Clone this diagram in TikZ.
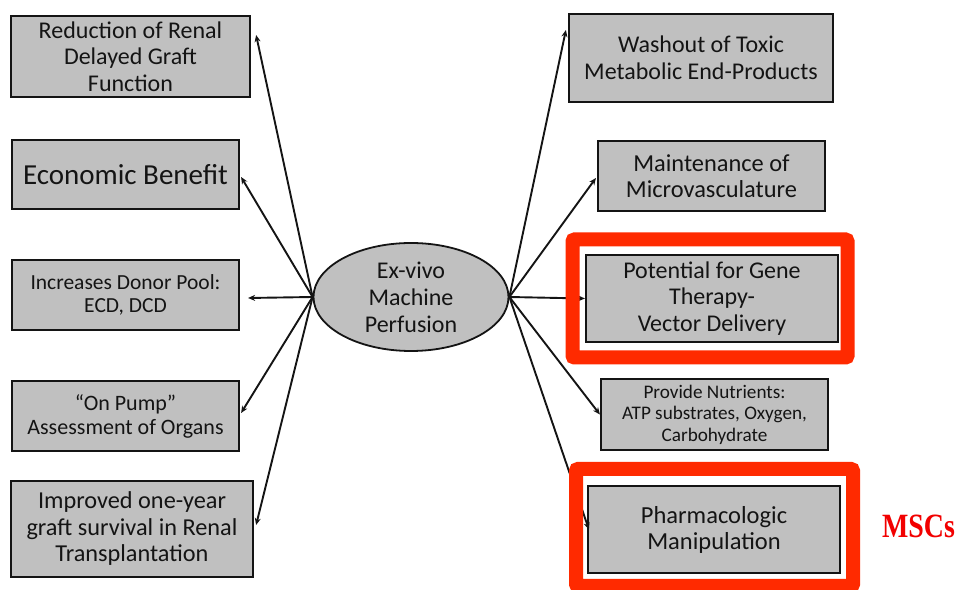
\documentclass[tikz,border=0pt]{standalone}
\usepackage{fontspec}
\setsansfont{Carlito}
\newfontfamily\PerfSerif[FakeStretch=0.82]{Liberation Serif}
\usetikzlibrary{arrows.meta,shapes.geometric}
\definecolor{PerfInk}{HTML}{141414}
\definecolor{PerfFill}{HTML}{C0C0C0}
\definecolor{PerfRed}{HTML}{FF2A00}
\definecolor{PerfNote}{HTML}{F20000}
\tikzset{
  perf box/.style={draw=PerfInk, fill=PerfFill, line width=2.2pt, align=center, inner sep=0pt, text=PerfInk, font=\sffamily\fontsize{24}{26.5}\selectfont},
  perf hub/.style={ellipse, draw=PerfInk, fill=PerfFill, line width=1.8pt, inner sep=0pt, minimum width=195pt, minimum height=108pt, align=center, text=PerfInk, font=\sffamily\fontsize{24}{27}\selectfont},
  perf arrow/.style={draw=PerfInk, line width=1.9pt, -{Stealth[length=7pt,width=6pt]}},
  perf frame/.style={draw=PerfRed, line width=14pt, rounded corners=2pt},
  perf note/.style={font=\PerfSerif\bfseries\fontsize{34}{38}\selectfont, text=PerfNote},
}

\begin{document}
\begin{tikzpicture}[x=1pt,y=1pt]
  \useasboundingbox (0,0) rectangle (958,589);

  \node[perf hub] (hub) at (411,292) {Ex-vivo\\Machine\\Perfusion};

  \node[perf box, minimum width=239pt, minimum height=81pt] (delay) at (130.5,532.5)
    {Reduction of Renal\\Delayed Graft\\Function};
  \node[perf box, minimum width=227pt, minimum height=69pt, font=\sffamily\fontsize{29}{32}\selectfont] (econ) at (125.5,414.5)
    {Economic Benefit};
  \node[perf box, minimum width=227pt, minimum height=70pt, font=\sffamily\fontsize{21.5}{23.5}\selectfont] (donor) at (125.5,294)
    {Increases Donor Pool:\\ECD, DCD};
  \node[perf box, minimum width=227pt, minimum height=70pt, font=\sffamily\fontsize{22}{24}\selectfont] (pump) at (125.5,173)
    {“On Pump”\\Assessment of Organs};
  \node[perf box, minimum width=242pt, minimum height=96pt, font=\sffamily\fontsize{24.3}{26.5}\selectfont] (graft) at (132,60)
    {Improved one-year\\graft survival in Renal\\Transplantation};

  \node[perf box, minimum width=264pt, minimum height=88pt] (wash) at (701,531)
    {Washout of Toxic\\Metabolic End-Products};
  \node[perf box, minimum width=227pt, minimum height=70pt, font=\sffamily\fontsize{24.4}{26}\selectfont] (micro) at (711.5,413)
    {Maintenance of\\Microvasculature};
  \node[perf box, minimum width=252pt, minimum height=87pt] (gene) at (712,290.5)
    {Potential for Gene\\Therapy-\\Vector Delivery};
  \node[perf box, minimum width=227pt, minimum height=71pt, font=\sffamily\fontsize{19.2}{21.5}\selectfont] (nutri) at (714.5,174.5)
    {Provide Nutrients:\\ATP substrates, Oxygen,\\Carbohydrate};
  \node[perf box, minimum width=252pt, minimum height=87pt, font=\sffamily\fontsize{24.5}{26}\selectfont] (pharm) at (714,59.5)
    {Pharmacologic\\Manipulation};

  \draw[perf arrow] (hub.west) -- ([shift={(5,21.5)}]delay.east);
  \draw[perf arrow] (hub.west) -- ([shift={(1,-2.5)}]econ.east);
  \draw[perf arrow] (hub.west) -- ([shift={(8,-3)}]donor.east);
  \draw[perf arrow] (hub.west) -- ([shift={(1,3)}]pump.east);
  \draw[perf arrow] (hub.west) -- ([shift={(2,4)}]graft.east);

  \draw[perf arrow] (hub.east) -- ([shift={(-2,28)}]wash.west);
  \draw[perf arrow] (hub.east) -- ([shift={(-1,-2)}]micro.west);
  \draw[perf arrow] (hub.east) -- (gene.west);
  \draw[perf arrow] (hub.east) -- (nutri.west);
  \draw[perf arrow] (hub.east) -- ([xshift=2pt]pharm.west);

  \draw[perf frame] (572.5,231.5) rectangle (847.5,349.5);
  \draw[perf frame] (576,3) rectangle (853,120);

  \node[perf note] (mscs) at (918.5,62.5) {MSCs};
\end{tikzpicture}
\end{document}
